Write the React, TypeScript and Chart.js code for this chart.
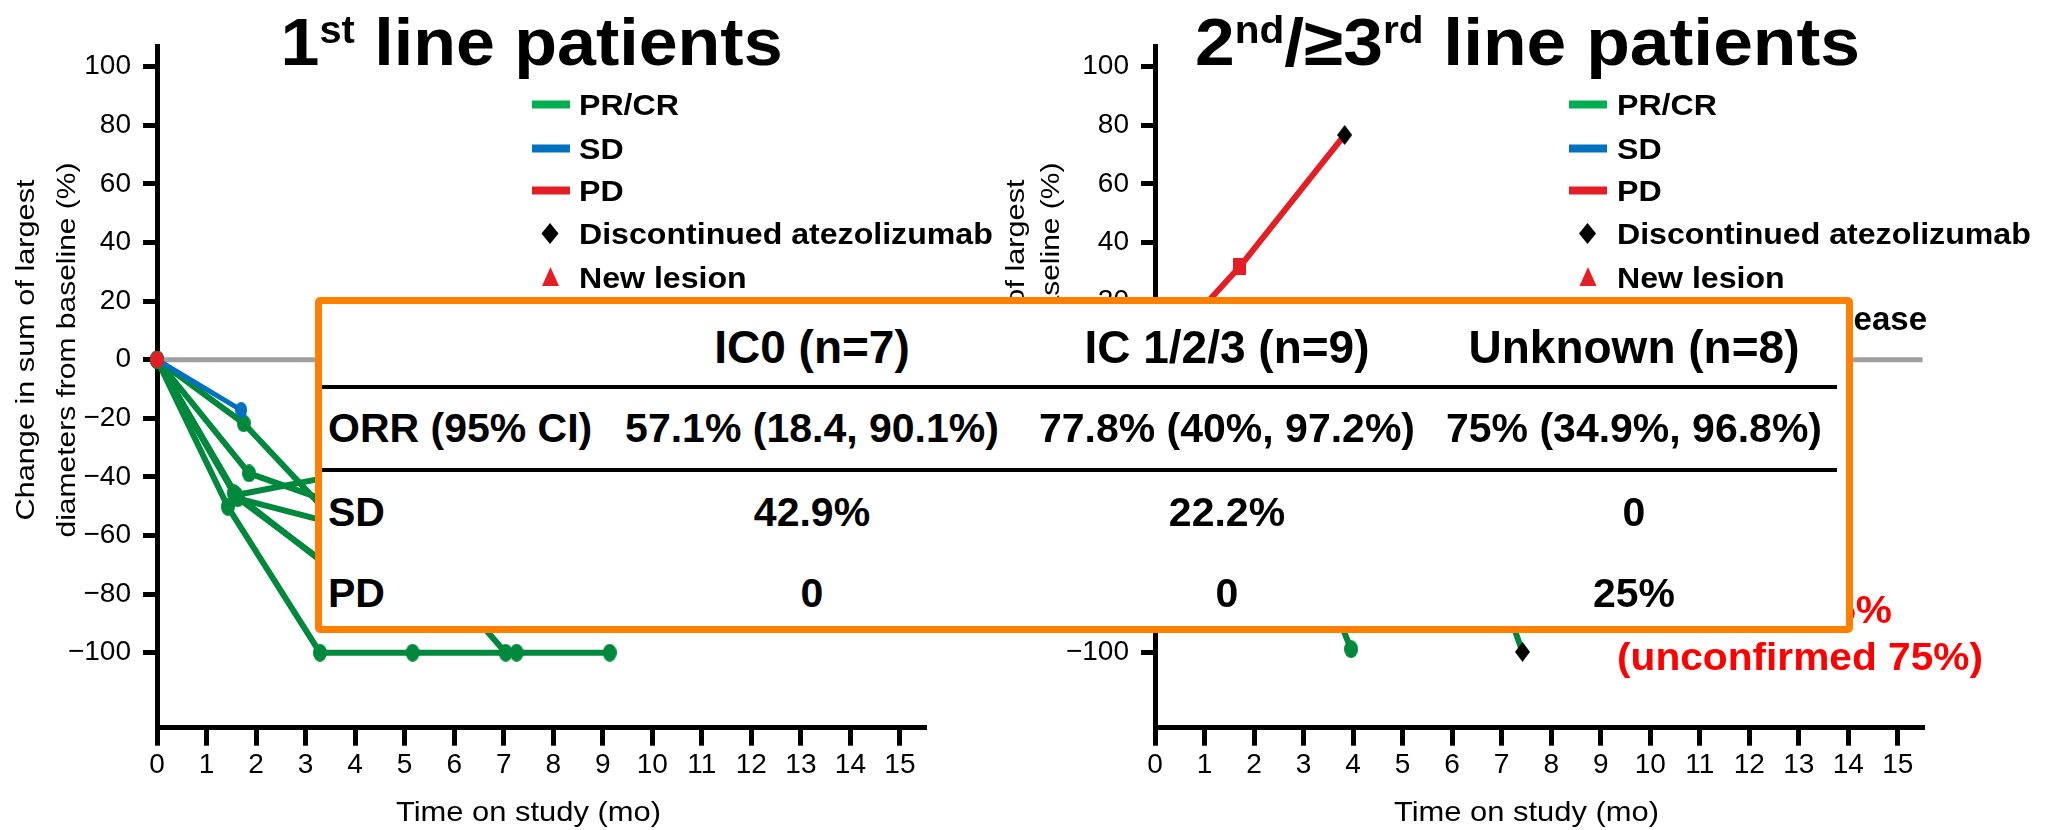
import React, { useEffect, useRef } from "react";
import { Chart, registerables } from "chart.js";

Chart.register(...registerables);

const FONT = '"Liberation Sans", Arial, Helvetica, sans-serif';

// ---------------- axis ticks ----------------
const monthTicks = [0, 1, 2, 3, 4, 5, 6, 7, 8, 9, 10, 11, 12, 13, 14, 15];
const changeTicks = [-100, -80, -60, -40, -20, 0, 20, 40, 60, 80, 100];

// ---------------- texts ----------------
const firstLineTitle = [
  { text: "1", sup: false },
  { text: "st", sup: true },
  { text: " line patients", sup: false },
];
const laterLineTitle = [
  { text: "2", sup: false },
  { text: "nd", sup: true },
  { text: "/\u22653", sup: false },
  { text: "rd", sup: true },
  { text: " line patients", sup: false },
];
const legendLabels = ["PR/CR", "SD", "PD", "Discontinued atezolizumab", "New lesion"];
const yTitleLines = ["Change in sum of largest", "diameters from baseline (%)"];
const xTitle = "Time on study (mo)";

const tableHeaders = ["IC0 (n=7)", "IC 1/2/3 (n=9)", "Unknown (n=8)"];
const tableRowLabels = ["ORR (95% CI)", "SD", "PD"];
const orrValues = ["57.1% (18.4, 90.1%)", "77.8% (40%, 97.2%)", "75% (34.9%, 96.8%)"];
const sdValues = ["42.9%", "22.2%", "0"];
const pdValues = ["0", "0", "25%"];

const noteLines = ["ORR = 62.5%", "(unconfirmed 75%)"];
const hiddenLabel = "Progressive disease";

// ---------------- 1st line patients ----------------
const first_pd1_months = [0];
const first_pd1_change = [0];
const first_sd1_months = [0, 1.7];
const first_sd1_change = [0, -17.2];
const first_pr1_months = [0, 1.75, 3.6, 5.6, 7.04];
const first_pr1_change = [0, -21.7, -55, -72, -100];
const first_pr2_months = [0, 1.86, 3.5, 5.3, 7.1];
const first_pr2_change = [0, -38.8, -48.5, -58, -66];
const first_pr3_months = [0, 1.43, 3.29, 5.16, 7.26, 9.14];
const first_pr3_change = [0, -50.2, -100, -100, -100, -100];
const first_pr4_months = [0, 1.6, 3.5, 5.3];
const first_pr4_change = [0, -46.2, -40, -44];
const first_pr5_months = [0, 1.63, 3.5, 5.2];
const first_pr5_change = [0, -47.3, -55.5, -60];
const first_pr6_months = [0, 1.6, 3.6, 5.4];
const first_pr6_change = [0, -46.8, -72, -85];
const first_pr7_months = [0, 1.55, 3.6, 5.5];
const first_pr7_change = [0, -45.5, -72.5, -88];

// ---------------- 2nd / >=3rd line patients ----------------
const later_pd1_months = [0, 1.71, 3.83];
const later_pd1_change = [0, 31.7, 76.7];
const later_pr1_months = [0, 1.8, 3.7, 3.96];
const later_pr1_change = [0, -42, -88, -98.8];
const later_pr2_months = [0, 1.7, 3.8, 5.6, 6.9, 7.42];
const later_pr2_change = [0, -35, -55, -62, -75, -99.7];
const later_pr3_months = [0, 1.8, 3.8, 5.7];
const later_pr3_change = [0, -30, -52, -60];
const later_sd1_months = [0, 1.8, 3.7];
const later_sd1_change = [0, -10, -14];

const firstLineSeries = [
  { response: "PD", months: first_pd1_months, change: first_pd1_change, discontinued: false },
  { response: "SD", months: first_sd1_months, change: first_sd1_change, discontinued: false },
  { response: "PR/CR", months: first_pr1_months, change: first_pr1_change, discontinued: false },
  { response: "PR/CR", months: first_pr2_months, change: first_pr2_change, discontinued: false },
  { response: "PR/CR", months: first_pr3_months, change: first_pr3_change, discontinued: false },
  { response: "PR/CR", months: first_pr4_months, change: first_pr4_change, discontinued: false },
  { response: "PR/CR", months: first_pr5_months, change: first_pr5_change, discontinued: false },
  { response: "PR/CR", months: first_pr6_months, change: first_pr6_change, discontinued: false },
  { response: "PR/CR", months: first_pr7_months, change: first_pr7_change, discontinued: false },
];

const laterLineSeries = [
  { response: "PD", months: later_pd1_months, change: later_pd1_change, discontinued: true },
  { response: "PR/CR", months: later_pr1_months, change: later_pr1_change, discontinued: false },
  { response: "PR/CR", months: later_pr2_months, change: later_pr2_change, discontinued: true },
  { response: "PR/CR", months: later_pr3_months, change: later_pr3_change, discontinued: false },
  { response: "SD", months: later_sd1_months, change: later_sd1_change, discontinued: false },
];

// ---------------- styling ----------------
const LINE_COLOR: Record<string, string> = { "PR/CR": "#00893C", SD: "#0070C0", PD: "#E31E24" };
const LEGEND_COLOR = ["#00B050", "#0070C0", "#E31E24"];
const ORANGE = "#FF8000";

function markerCanvas(w: number, h: number, color: string, shape: string) {
  const c = document.createElement("canvas");
  c.width = w;
  c.height = h;
  const g = c.getContext("2d")!;
  g.fillStyle = color;
  g.beginPath();
  if (shape === "ellipse") g.ellipse(w / 2, h / 2, w / 2, h / 2, 0, 0, Math.PI * 2);
  else if (shape === "square") g.rect(0, 0, w, h);
  else if (shape === "diamond") {
    g.moveTo(w / 2, 0);
    g.lineTo(w, h / 2);
    g.lineTo(w / 2, h);
    g.lineTo(0, h / 2);
    g.closePath();
  }
  g.fill();
  return c;
}

function drawText(ctx: any, text: string, x: number, y: number, font: string, color: string, align: string, opts: any = {}) {
  ctx.save();
  ctx.font = font;
  const w = ctx.measureText(text).width;
  const sx = opts.width ? opts.width / w : opts.sx || 1;
  const dw = w * sx;
  const left = align === "center" ? x - dw / 2 : align === "right" ? x - dw : x;
  ctx.translate(left, y);
  ctx.scale(sx, 1);
  ctx.fillStyle = color;
  ctx.textAlign = "left";
  ctx.textBaseline = "alphabetic";
  ctx.fillText(text, 0, 0);
  ctx.restore();
}

function drawRotated(ctx: any, text: string, cx: number, cy: number, font: string, width: number) {
  ctx.save();
  ctx.font = font;
  const w = ctx.measureText(text).width;
  ctx.translate(cx, cy);
  ctx.rotate(-Math.PI / 2);
  ctx.scale(width / w, 1);
  ctx.fillStyle = "#000";
  ctx.textAlign = "center";
  ctx.textBaseline = "middle";
  ctx.fillText(text, 0, 0);
  ctx.restore();
}

function drawRuns(ctx: any, runs: any[], left: number, baseline: number, targetWidth: number) {
  const mainSize = 67;
  const supSize = 38;
  ctx.save();
  let total = 0;
  const widths = runs.map((r) => {
    ctx.font = `bold ${r.sup ? supSize : mainSize}px ${FONT}`;
    const w = ctx.measureText(r.text).width;
    total += w;
    return w;
  });
  ctx.translate(left, baseline);
  ctx.scale(targetWidth / total, 1);
  ctx.fillStyle = "#000";
  ctx.textAlign = "left";
  ctx.textBaseline = "alphabetic";
  let x = 0;
  runs.forEach((r, i) => {
    ctx.font = `bold ${r.sup ? supSize : mainSize}px ${FONT}`;
    ctx.fillText(r.text, x, r.sup ? -22 : 0);
    x += widths[i];
  });
  ctx.restore();
}

function drawLegend(ctx: any, barLeft: number, markX: number, textLeft: number) {
  const rows = [104.5, 148.5, 190.5, 233.5, 277];
  ctx.save();
  for (let i = 0; i < 3; i++) {
    ctx.fillStyle = LEGEND_COLOR[i];
    ctx.fillRect(barLeft, rows[i] - 4, 38, 8);
  }
  ctx.fillStyle = "#000";
  ctx.beginPath();
  ctx.moveTo(markX, rows[3] - 10.5);
  ctx.lineTo(markX + 8.5, rows[3]);
  ctx.lineTo(markX, rows[3] + 10.5);
  ctx.lineTo(markX - 8.5, rows[3]);
  ctx.closePath();
  ctx.fill();
  ctx.fillStyle = "#E31E24";
  ctx.beginPath();
  ctx.moveTo(markX + 0.5, rows[4] - 10);
  ctx.lineTo(markX + 9, rows[4] + 9);
  ctx.lineTo(markX - 8, rows[4] + 9);
  ctx.closePath();
  ctx.fill();
  ctx.restore();
  legendLabels.forEach((label, i) => {
    drawText(ctx, label, textLeft, rows[i] + 10.8, `bold 30px ${FONT}`, "#000", "left", { sx: 1.07 });
  });
}

function buildConfig(p: any, markers: any) {
  const datasets = p.series.map((s: any) => ({
    data: s.months.map((m: number, i: number) => ({ x: m, y: s.change[i] })),
    borderColor: LINE_COLOR[s.response],
    backgroundColor: LINE_COLOR[s.response],
    borderWidth: s.response === "SD" ? 5 : 6,
    borderCapStyle: "round",
    borderJoinStyle: "round",
    tension: 0,
    clip: false,
    pointRadius: 8,
    pointStyle: (c: any) => {
      const i = c.dataIndex;
      const last = i === s.months.length - 1;
      if (last && s.discontinued) return markers.diamond;
      if (s.response === "PD" && i > 0) return markers.square;
      return markers.dot[s.response];
    },
  }));

  const decor = {
    id: "decor",
    beforeDatasetsDraw(chart: any) {
      const { ctx, chartArea, scales } = chart;
      const y0 = scales.y.getPixelForValue(0);
      ctx.save();
      ctx.strokeStyle = "#A0A0A0";
      ctx.lineWidth = 5;
      ctx.beginPath();
      ctx.moveTo(chartArea.left + 2, y0);
      ctx.lineTo(chartArea.right, y0);
      ctx.stroke();
      ctx.restore();
    },
    afterDraw(chart: any) {
      const { ctx, chartArea, scales } = chart;
      drawRuns(ctx, p.titleRuns, p.titleLeft, 65, p.titleWidth);
      drawLegend(ctx, p.legendBar, p.legendMark, p.legendText);
      drawRotated(ctx, yTitleLines[0], chartArea.left + p.yTitleOffsets[0], 350, `26px ${FONT}`, 341);
      drawRotated(ctx, yTitleLines[1], chartArea.left + p.yTitleOffsets[1], 350, `26px ${FONT}`, 375);
      drawText(ctx, xTitle, scales.x.getPixelForValue(7.5), 821, `28px ${FONT}`, "#000", "center", { width: 265 });
      if (p.extra) p.extra(ctx);
    },
  };

  return {
    type: "line",
    data: { datasets },
    plugins: [decor],
    options: {
      responsive: false,
      animation: false,
      devicePixelRatio: 1,
      events: [],
      layout: { padding: { left: 0, top: 46.2, right: p.canvasWidth - p.axisRight, bottom: 0 } },
      plugins: { legend: { display: false }, tooltip: { enabled: false }, title: { display: false } },
      scales: {
        x: {
          type: "linear",
          min: 0,
          max: 15.5,
          afterFit: (s: any) => {
            s.height = 830 - 727.7;
          },
          afterBuildTicks: (s: any) => {
            s.ticks = monthTicks.map((v) => ({ value: v }));
          },
          border: { display: true, color: "#000", width: 5 },
          grid: {
            display: true,
            drawOnChartArea: false,
            drawTicks: true,
            tickLength: 18,
            tickWidth: 5,
            tickColor: "#000",
            color: "#000",
            lineWidth: 5,
          },
          ticks: {
            color: "#000",
            font: { family: FONT, size: 28 },
            padding: 3,
            maxRotation: 0,
            autoSkip: false,
          },
        },
        y: {
          type: "linear",
          min: -125.6,
          max: 107,
          afterFit: (s: any) => {
            s.width = p.axisLeft;
          },
          afterBuildTicks: (s: any) => {
            s.ticks = changeTicks.map((v) => ({ value: v }));
          },
          border: { display: true, color: "#000", width: 5 },
          grid: {
            display: true,
            drawOnChartArea: false,
            drawTicks: true,
            tickLength: 14,
            tickWidth: 5,
            tickColor: "#000",
            color: "#000",
            lineWidth: 5,
          },
          ticks: {
            color: "#000",
            font: { family: FONT, size: 28 },
            padding: 12,
            autoSkip: false,
            callback: (v: number) => (v < 0 ? "\u2212" + Math.abs(v) : String(v)),
          },
        },
      },
    },
  };
}

function Cell({ text, cx, left, capCenter, size }: any) {
  const style: any = {
    position: "absolute",
    top: capCenter - 0.4885 * size,
    fontSize: size,
    lineHeight: size + "px",
    fontWeight: 700,
    fontFamily: FONT,
    whiteSpace: "nowrap",
    color: "#000",
  };
  if (cx !== undefined) {
    style.left = cx - 300;
    style.width = 600;
    style.textAlign = "center";
  } else {
    style.left = left;
  }
  return <div style={style}>{text}</div>;
}

export default function App() {
  const leftRef = useRef<HTMLCanvasElement>(null);
  const rightRef = useRef<HTMLCanvasElement>(null);

  useEffect(() => {
    document.body.style.margin = "0";
    const markers = {
      dot: {
        "PR/CR": markerCanvas(14, 18, LINE_COLOR["PR/CR"], "ellipse"),
        SD: markerCanvas(12, 16, LINE_COLOR.SD, "ellipse"),
        PD: markerCanvas(14, 17, LINE_COLOR.PD, "ellipse"),
      },
      square: markerCanvas(13, 17, LINE_COLOR.PD, "square"),
      diamond: markerCanvas(15, 20, "#000", "diamond"),
    };
    const left = new Chart(
      leftRef.current!,
      buildConfig(
        {
          series: firstLineSeries,
          canvasWidth: 1000,
          axisLeft: 157,
          axisRight: 924.7,
          titleRuns: firstLineTitle,
          titleLeft: 280.6,
          titleWidth: 502,
          legendBar: 532,
          legendMark: 550,
          legendText: 579,
          yTitleOffsets: [-130.5, -89.5],
        },
        markers
      ) as any
    );
    const right = new Chart(
      rightRef.current!,
      buildConfig(
        {
          series: laterLineSeries,
          canvasWidth: 1056,
          axisLeft: 155,
          axisRight: 922.6,
          titleRuns: laterLineTitle,
          titleLeft: 195,
          titleWidth: 665,
          legendBar: 569,
          legendMark: 587.5,
          legendText: 617,
          yTitleOffsets: [-138, -103],
          extra: (ctx: any) => {
            drawText(ctx, hiddenLabel, 927, 330, `bold 33px ${FONT}`, "#000", "right");
            drawText(ctx, noteLines[0], 892, 623, `bold 38px ${FONT}`, "#FF0000", "right", { sx: 1.07 });
            drawText(ctx, noteLines[1], 617, 670, `bold 38px ${FONT}`, "#FF0000", "left", { width: 366 });
          },
        },
        markers
      ) as any
    );
    return () => {
      left.destroy();
      right.destroy();
    };
  }, []);

  const cols = [812, 1227, 1634];
  const rowCaps = [428, 512, 593];
  const rowValues = [orrValues, sdValues, pdValues];

  return (
    <div style={{ position: "absolute", left: 0, top: 0, width: 2056, height: 830, overflow: "hidden", background: "#fff" }}>
      <canvas ref={leftRef} width={1000} height={830} style={{ position: "absolute", left: 0, top: 0 }} />
      <canvas ref={rightRef} width={1056} height={830} style={{ position: "absolute", left: 1000, top: 0 }} />
      <div
        style={{
          position: "absolute",
          left: 315,
          top: 297,
          width: 1538,
          height: 336,
          border: `7px solid ${ORANGE}`,
          boxSizing: "border-box",
          borderRadius: 5,
          background: "#fff",
        }}
      />
      <div style={{ position: "absolute", left: 322, top: 385, width: 1515, height: 3.5, background: "#000" }} />
      <div style={{ position: "absolute", left: 322, top: 468, width: 1515, height: 3.5, background: "#000" }} />
      {tableHeaders.map((h, i) => (
        <Cell key={"h" + i} text={h} cx={cols[i]} capCenter={346} size={46} />
      ))}
      {tableRowLabels.map((label, r) => (
        <Cell key={"l" + r} text={label} left={328} capCenter={rowCaps[r]} size={41} />
      ))}
      {rowValues.map((vals, r) =>
        vals.map((v, i) => <Cell key={"v" + r + "_" + i} text={v} cx={cols[i]} capCenter={rowCaps[r]} size={41} />)
      )}
    </div>
  );
}
